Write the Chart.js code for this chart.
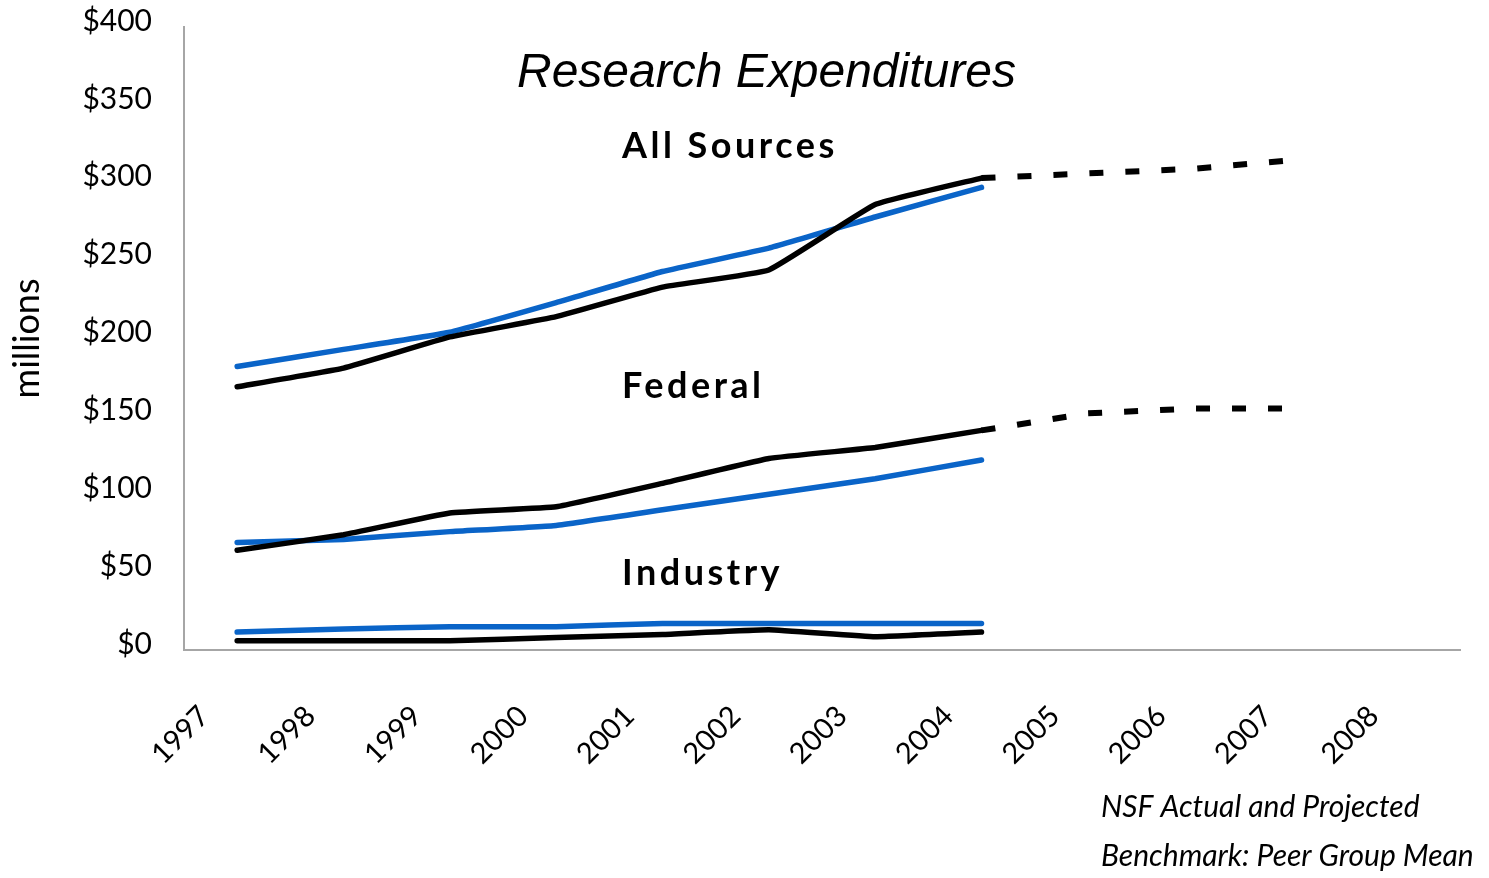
<!DOCTYPE html>
<html>
<head>
<meta charset="utf-8">
<script src="https://cdn.jsdelivr.net/npm/chart.js@4/dist/chart.umd.min.js"></script>
<style>
  html, body { margin: 0; padding: 0; background: #ffffff; }
  #chart { display: block; }
</style>
</head>
<body>
<canvas id="chart" width="1489" height="878"></canvas>
<script>
var years = ['1997', '1998', '1999', '2000', '2001', '2002', '2003', '2004', '2005', '2006', '2007', '2008'];
var yTicks = [0, 50, 100, 150, 200, 250, 300, 350, 400];

// NSF actual (black) and projected (dashed), peer group mean (blue), $ millions
var allActual     = [169, 181, 201, 214, 233, 244, 286, 303, null, null, null, null];
var allProjected  = [null, null, null, null, null, null, null, 303, 306, 309, 315, null];
var allBenchmark  = [182, 193, 204, 223, 243, 258, 278, 297, null, null, null, null];
var fedActual     = [64, 74, 88, 92, 107, 123, 130, 141, null, null, null, null];
var fedProjected  = [null, null, null, null, null, null, null, 141, 152, 155, 155, null];
var fedBenchmark  = [69, 71, 76, 80, 90, 100, 110, 122, null, null, null, null];
var indActual     = [6, 6, 6, 8, 10, 13, 8.5, 11.5, null, null, null, null];
var indBenchmark  = [11.5, 13.5, 15, 15, 17, 17, 17, 17, null, null, null, null];

var BLACK = '#000000';
var BLUE = '#0a64c8';

function solid(values, color) {
    return {
        data: values,
        borderColor: color,
        borderWidth: 5.5,
        pointRadius: 0,
        tension: 0.1,
        borderCapStyle: 'round',
        borderJoinStyle: 'round',
        fill: false
    };
}

function dashed(values) {
    return {
        data: values,
        borderColor: BLACK,
        borderWidth: 6,
        borderDash: [14, 22],
        borderCapStyle: 'butt',
        pointRadius: 0,
        tension: 0,
        fill: false
    };
}

const textPlugin = {
    id: 'textPlugin',
    afterDraw(chart) {
        const ctx = chart.ctx;
        ctx.save();
        ctx.fillStyle = '#000';
        ctx.textAlign = 'left';
        ctx.textBaseline = 'alphabetic';

        ctx.font = 'italic 48px "Liberation Sans", Arial, sans-serif';
        ctx.fillText('Research Expenditures', 517, 87);

        ctx.font = 'bold 36px Lato, sans-serif';
        ctx.letterSpacing = '3.5px';
        ctx.fillText('All Sources', 622, 158);
        ctx.fillText('Federal', 622, 398);
        ctx.fillText('Industry', 622, 585);
        ctx.letterSpacing = '0px';

        ctx.font = 'italic 30px Lato, sans-serif';
        ctx.fillText('NSF Actual and Projected', 1101, 817);
        ctx.fillText('Benchmark: Peer Group Mean', 1101, 866);
        ctx.restore();
    }
};

var config = {
    type: 'line',
    data: {
        labels: years,
        datasets: [
            solid(allActual, BLACK),
            dashed(allProjected),
            solid(allBenchmark, BLUE),
            solid(fedActual, BLACK),
            dashed(fedProjected),
            solid(fedBenchmark, BLUE),
            solid(indActual, BLACK),
            solid(indBenchmark, BLUE)
        ]
    },
    options: {
        responsive: false,
        animation: false,
        layout: { padding: { top: 27, right: 29, left: 0, bottom: 0 } },
        plugins: {
            legend: { display: false },
            tooltip: { enabled: false }
        },
        scales: {
            x: {
                offset: true,
                grid: { display: false, drawTicks: false },
                border: { display: true, color: '#a6a6a6', width: 2 },
                ticks: {
                    autoSkip: false,
                    maxRotation: 45,
                    minRotation: 45,
                    labelOffset: -33,
                    padding: 49,
                    color: '#000',
                    font: { family: 'Lato', size: 29 }
                },
                afterFit: (scale) => { scale.height = 228; }
            },
            y: {
                min: 0,
                max: 400,
                afterBuildTicks: (scale) => { scale.ticks = yTicks.map((v) => ({ value: v })); },
                grid: { display: false, drawTicks: false },
                border: { display: true, color: '#a6a6a6', width: 2 },
                ticks: {
                    padding: 32,
                    labelOffset: -6,
                    color: '#000',
                    font: { family: 'Lato', size: 30 },
                    callback: (v) => '$' + v
                },
                title: {
                    display: true,
                    text: 'millions',
                    color: '#000',
                    font: { family: 'Lato', size: 36 },
                    padding: { top: 6, bottom: 0 }
                },
                afterFit: (scale) => {
                    scale.width = 184;
                    scale.paddingTop = 0;
                    scale.paddingBottom = 0;
                }
            }
        }
    },
    plugins: [textPlugin]
};

var chart = new Chart(document.getElementById('chart'), config);
</script>
</body>
</html>
